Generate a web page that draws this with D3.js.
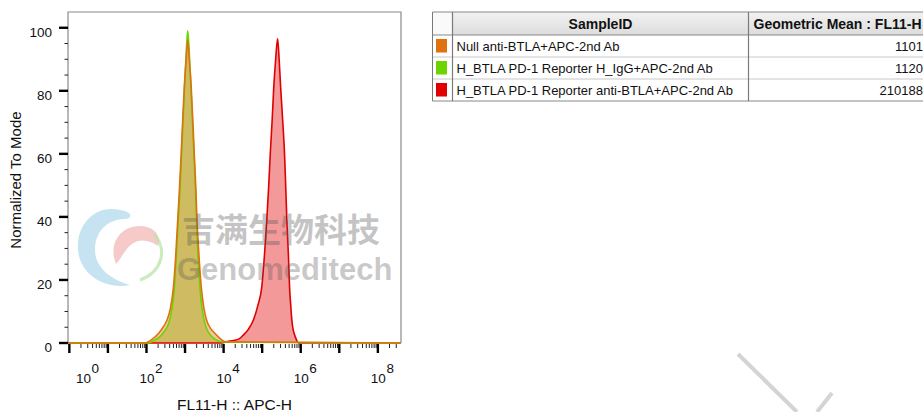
<!DOCTYPE html>
<html>
<head>
<meta charset="utf-8">
<script src="https://cdn.jsdelivr.net/npm/d3@7"></script>
<style>
  body { margin: 0; background: #fff; }
  svg { display: block; font-family: "Liberation Sans", Arial, sans-serif; }
</style>
</head>
<body>
<svg id="chart" width="923" height="412"></svg>
<script>
// histogram data, x in log10(FL11-H), y in % of mode
const nullLog = [-0.035, 1.96, 2.15, 2.31, 2.43, 2.53, 2.62, 2.70, 2.76, 2.81, 2.86, 2.90, 2.94, 2.98, 3.03, 3.07, 3.11, 3.16, 3.20, 3.24, 3.28, 3.31, 3.36, 3.42, 3.49, 3.56, 3.67, 3.78, 3.90, 4.04, 8.6];
const nullPct = [0, 0, 1.2, 3, 5, 7.2, 11, 17.8, 28, 39, 50, 60, 71, 81, 90, 96, 90, 81, 71, 60, 49, 39, 28, 17.8, 11, 7.2, 4.5, 3, 1.5, 0.4, 0];

const iggLog = [-0.035, 2.04, 2.2, 2.35, 2.47, 2.57, 2.65, 2.72, 2.77, 2.82, 2.87, 2.91, 2.95, 2.99, 3.03, 3.07, 3.11, 3.15, 3.19, 3.23, 3.27, 3.30, 3.34, 3.39, 3.45, 3.52, 3.60, 3.70, 3.82, 3.96, 8.6];
const iggPct = [0, 0, 0.8, 2, 3.8, 6, 10, 17, 27, 38, 49, 60, 71, 82, 92, 99, 92, 82, 71, 60, 49, 38, 27, 17, 10, 6, 3.5, 2, 0.9, 0.3, 0];

const btlaLog = [-0.035, 3.91, 4.1, 4.25, 4.4, 4.51, 4.65, 4.77, 4.89, 4.99, 5.06, 5.12, 5.17, 5.21, 5.26, 5.30, 5.35, 5.40, 5.44, 5.48, 5.53, 5.58, 5.61, 5.64, 5.68, 5.71, 5.74, 5.77, 5.80, 5.83, 5.89, 5.94, 8.6];
const btlaPct = [0, 0, 0.5, 0.8, 1.3, 2.5, 4.5, 7.2, 12, 17.8, 28, 39, 50, 60, 71, 81, 90, 96.6, 90, 81, 71, 60, 50, 39, 28, 17.8, 12, 7.2, 4.5, 3, 1, 0, 0];

const sampleIds = [
  "Null anti-BTLA+APC-2nd Ab",
  "H_BTLA PD-1 Reporter H_IgG+APC-2nd Ab",
  "H_BTLA PD-1 Reporter anti-BTLA+APC-2nd Ab"
];
const geoMeans = ["1101", "1120", "210188"];
const sampleColors = ["#e07010", "#6cd400", "#e00000"];

const xDecades = [0, 1, 2, 3, 4, 5, 6, 7, 8];
const xLabelDecades = [0, 2, 4, 6, 8];
const yMajor = [0, 20, 40, 60, 80, 100];

const svg = d3.select("#chart");
const frame = { left: 68, right: 401, top: 12, bottom: 343 };

const x = d3.scaleLog()
  .domain([Math.pow(10, -0.035), Math.pow(10, 8.6)])
  .range([frame.left, frame.right]);
const y = d3.scaleLinear().domain([0, 105]).range([frame.bottom, frame.top]);

svg.append("clipPath").attr("id", "plot-clip")
  .append("rect")
  .attr("x", frame.left).attr("y", frame.top - 2)
  .attr("width", frame.right - frame.left).attr("height", frame.bottom - frame.top + 3);

const plot = svg.append("g").attr("clip-path", "url(#plot-clip)");

function toPoints(logs, pcts) {
  return logs.map((l, i) => ({ v: Math.pow(10, l), p: pcts[i] }));
}

const area = d3.area()
  .curve(d3.curveMonotoneX)
  .x((d) => x(d.v))
  .y0(y(0))
  .y1((d) => y(d.p));
const line = d3.line()
  .curve(d3.curveMonotoneX)
  .x((d) => x(d.v))
  .y((d) => y(d.p));

// draw order: red, green, orange on top
const series = [
  { pts: toPoints(btlaLog, btlaPct), color: sampleColors[2] },
  { pts: toPoints(iggLog, iggPct), color: sampleColors[1] },
  { pts: toPoints(nullLog, nullPct), color: sampleColors[0] }
];

series.forEach((s) => {
  plot.append("path").attr("d", area(s.pts))
    .style("fill", s.color).style("fill-opacity", 0.4);
});
series.forEach((s) => {
  plot.append("path").attr("d", line(s.pts))
    .style("fill", "none").style("stroke", s.color).style("stroke-width", 1.6);
});

// watermark
const wm = svg.append("g").attr("pointer-events", "none");
wm.append("path")
  .attr("d", "M120,210 C92,204 76,228 78,250 C80,274 104,290 130,285 C112,280 95,268 95,250 C95,231 108,219 125,219 C132,219 134,212 120,210 Z")
  .style("fill", "#9fd0e6").style("opacity", 0.6);
wm.append("path")
  .attr("d", "M116,264 C108,244 120,226 140,226 C154,226 162,236 158,246 C150,240 140,238 132,244 C124,250 122,258 116,264 Z")
  .style("fill", "#f2a6a6").style("opacity", 0.6);
wm.append("path")
  .attr("d", "M154,234 C168,250 162,272 140,280")
  .style("fill", "none").style("stroke", "#b9e3a8").style("stroke-width", 3).style("opacity", 0.75);
wm.append("text")
  .attr("x", 182).attr("y", 242)
  .style("font-family", "'Noto Sans CJK SC', sans-serif")
  .style("font-weight", "bold").style("font-size", "33px")
  .style("fill", "#555").style("fill-opacity", 0.34)
  .text("吉满生物科技");
wm.append("text")
  .attr("x", 177).attr("y", 280)
  .style("font-weight", "bold").style("font-size", "31px")
  .style("fill", "#555").style("fill-opacity", 0.32)
  .text("Genomeditech");
wm.append("line")
  .attr("x1", 738).attr("y1", 354).attr("x2", 797).attr("y2", 412)
  .style("stroke", "#d4d4d4").style("stroke-width", 4);
wm.append("line")
  .attr("x1", 832).attr("y1", 393).attr("x2", 817).attr("y2", 412)
  .style("stroke", "#d4d4d4").style("stroke-width", 4);

// frame
svg.append("path")
  .attr("d", `M${frame.left},${frame.bottom}V${frame.top}H${frame.right}V${frame.bottom}`)
  .style("fill", "none").style("stroke", "#8a8a8a").style("stroke-width", 1.2);

// y axis
const yAxis = svg.append("g");
yAxis.selectAll(".minor").data(d3.range(0, 101, 5))
  .enter().append("line")
  .attr("x1", frame.left - 3.5).attr("x2", frame.left)
  .attr("y1", (d) => y(d)).attr("y2", (d) => y(d))
  .style("stroke", "#222").style("stroke-width", 1);
yAxis.selectAll(".major").data(yMajor)
  .enter().append("line")
  .attr("x1", frame.left - 9).attr("x2", frame.left)
  .attr("y1", (d) => y(d)).attr("y2", (d) => y(d))
  .style("stroke", "#000").style("stroke-width", 2.4);
yAxis.selectAll(".label").data(yMajor)
  .enter().append("text")
  .attr("x", 52).attr("y", (d) => y(d) + 9)
  .attr("text-anchor", "end")
  .style("font-size", "13.5px").style("fill", "#111")
  .text((d) => d);
svg.append("text")
  .attr("transform", "translate(21,180) rotate(-90)")
  .attr("text-anchor", "middle")
  .style("font-size", "15px").style("fill", "#111")
  .text("Normalized To Mode");

// x axis: log ticks
const xAxis = svg.append("g");
const minorVals = [];
xDecades.forEach((k) => {
  for (let m = 2; m <= 9; m++) {
    const v = m * Math.pow(10, k);
    if (v < x.domain()[1]) minorVals.push(v);
  }
});
xAxis.selectAll(".minor").data(minorVals)
  .enter().append("line")
  .attr("x1", (d) => x(d)).attr("x2", (d) => x(d))
  .attr("y1", frame.bottom + 1).attr("y2", frame.bottom + 5)
  .style("stroke", "#222").style("stroke-width", 1);
xAxis.selectAll(".major").data(xDecades)
  .enter().append("line")
  .attr("x1", (d) => x(Math.pow(10, d))).attr("x2", (d) => x(Math.pow(10, d)))
  .attr("y1", frame.bottom + 1).attr("y2", frame.bottom + 10)
  .style("stroke", "#000").style("stroke-width", 2.4);
const xl = xAxis.selectAll(".label").data(xLabelDecades)
  .enter().append("text")
  .attr("x", (d) => Math.max(x(Math.pow(10, d)), frame.left + 15) - 7)
  .attr("y", 383)
  .style("font-size", "13.5px").style("fill", "#111");
xl.append("tspan").text("10");
xl.append("tspan").attr("dy", -10).attr("dx", 0.5).text((d) => d);
svg.append("text")
  .attr("x", (frame.left + frame.right) / 2).attr("y", 410)
  .attr("text-anchor", "middle")
  .style("font-size", "15.5px").style("fill", "#111")
  .text("FL11-H :: APC-H");

// sample table
const tbl = svg.append("g");
const tX = 432.5, c1 = 452.5, c2 = 748.5, c3 = 925;
const tTop = 12, hdrH = 23, rowH = 22;
const tBottom = tTop + hdrH + rowH * sampleIds.length;

const grad = svg.append("defs").append("linearGradient")
  .attr("id", "hdr").attr("x1", 0).attr("y1", 0).attr("x2", 0).attr("y2", 1);
grad.append("stop").attr("offset", 0).attr("stop-color", "#f2f2f2");
grad.append("stop").attr("offset", 1).attr("stop-color", "#dcdcdc");

tbl.append("rect").attr("x", c1).attr("y", tTop)
  .attr("width", c3 - c1).attr("height", hdrH).style("fill", "url(#hdr)");
tbl.append("rect").attr("x", tX).attr("y", tTop)
  .attr("width", c1 - tX).attr("height", hdrH).style("fill", "#fafafa");

sampleIds.forEach((s, i) => {
  const ry = tTop + hdrH + i * rowH;
  tbl.append("line").attr("x1", tX).attr("x2", c3)
    .attr("y1", ry + rowH).attr("y2", ry + rowH)
    .style("stroke", i === sampleIds.length - 1 ? "#888" : "#c8c8c8").style("stroke-width", 1);
  tbl.append("rect").attr("x", tX + 3.5).attr("y", ry + 4)
    .attr("width", 11).attr("height", 13.5).style("fill", sampleColors[i]);
  tbl.append("text").attr("x", c1 + 4).attr("y", ry + 15.5)
    .style("font-size", "13px").style("fill", "#111").text(s);
  tbl.append("text").attr("x", c3 - 2).attr("y", ry + 15.5)
    .attr("text-anchor", "end")
    .style("font-size", "13px").style("fill", "#111").text(geoMeans[i]);
});

tbl.append("line").attr("x1", tX).attr("x2", c3).attr("y1", tTop).attr("y2", tTop)
  .style("stroke", "#888");
tbl.append("line").attr("x1", tX).attr("x2", c3).attr("y1", tTop + hdrH).attr("y2", tTop + hdrH)
  .style("stroke", "#888");
[tX, c1, c2].forEach((cx) => {
  tbl.append("line").attr("x1", cx).attr("x2", cx).attr("y1", tTop).attr("y2", tBottom)
    .style("stroke", "#7a7a7a").style("stroke-width", cx === tX ? 1 : 1.2);
});
tbl.append("text").attr("x", (c1 + c2) / 2).attr("y", tTop + 16.5)
  .attr("text-anchor", "middle")
  .style("font-size", "14px").style("font-weight", "bold").style("fill", "#111")
  .text("SampleID");
tbl.append("text").attr("x", c2 + 5).attr("y", tTop + 16.5)
  .style("font-size", "14px").style("font-weight", "bold").style("fill", "#111")
  .text("Geometric Mean : FL11-H");
</script>
</body>
</html>
